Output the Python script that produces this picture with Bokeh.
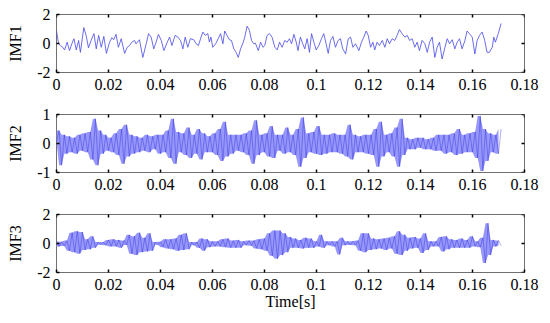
import numpy as np
from bokeh.plotting import figure
from bokeh.layouts import column
from bokeh.models import FixedTicker, Range1d
from bokeh.embed import file_html
from bokeh.resources import INLINE

# ---------------- data ----------------
x_ticks = [0, 0.02, 0.04, 0.06, 0.08, 0.1, 0.12, 0.14, 0.16, 0.18]
x_tick_labels = ["0", "0.02", "0.04", "0.06", "0.08", "0.1", "0.12", "0.14", "0.16", "0.18"]
x_label = "Time[s]"
panel_labels = ["IMF1", "IMF2", "IMF3"]
y_ticks_1 = [-2, 0, 2]
y_ticks_2 = [-1, 0, 1]
y_ticks_3 = [-2, 0, 2]

imf1_t = [0.0, 0.0008, 0.0015, 0.0024, 0.0031, 0.0041, 0.0050, 0.0059, 0.0067, 0.0076,
          0.0085, 0.0092, 0.0105, 0.0114, 0.0123, 0.0133, 0.0144, 0.0153, 0.0162, 0.0172,
          0.0182, 0.0192, 0.0204, 0.0213, 0.0220, 0.0229, 0.0238, 0.0249, 0.0262, 0.0272,
          0.0281, 0.0290, 0.0300, 0.0306, 0.0319, 0.0332, 0.0345, 0.0354, 0.0364, 0.0374,
          0.0383, 0.0392, 0.0403, 0.0413, 0.0426, 0.0435, 0.0444, 0.0456, 0.0467, 0.0477,
          0.0486, 0.0495, 0.0505, 0.0515, 0.0528, 0.0537, 0.0546, 0.0556, 0.0563, 0.0572,
          0.0582, 0.0588, 0.0594, 0.0601, 0.0612, 0.0622, 0.0631, 0.0640, 0.0647, 0.0656,
          0.0665, 0.0673, 0.0682, 0.0691, 0.0699, 0.0708, 0.0717, 0.0724, 0.0733, 0.0742,
          0.0750, 0.0759, 0.0765, 0.0776, 0.0785, 0.0794, 0.0801, 0.0810, 0.0819, 0.0829,
          0.0840, 0.0849, 0.0858, 0.0868, 0.0878, 0.0887, 0.0896, 0.0904, 0.0913, 0.0922,
          0.0929, 0.0938, 0.0947, 0.0955, 0.0964, 0.0973, 0.0981, 0.0990, 0.0999, 0.1009,
          0.1019, 0.1028, 0.1037, 0.1045, 0.1054, 0.1063, 0.1073, 0.1083, 0.1092, 0.1101,
          0.1112, 0.1122, 0.1131, 0.1140, 0.1150, 0.1163, 0.1173, 0.1182, 0.1191, 0.1199,
          0.1208, 0.1217, 0.1224, 0.1233, 0.1242, 0.1253, 0.1263, 0.1272, 0.1281, 0.1291,
          0.1301, 0.1310, 0.1319, 0.1329, 0.1340, 0.1349, 0.1358, 0.1368, 0.1378, 0.1387,
          0.1396, 0.1406, 0.1417, 0.1426, 0.1435, 0.1445, 0.1455, 0.1464, 0.1473, 0.1483,
          0.1494, 0.1503, 0.1512, 0.1522, 0.1532, 0.1541, 0.1550, 0.1560, 0.1571, 0.1579,
          0.1588, 0.1599, 0.1609, 0.1618, 0.1627, 0.1637, 0.1647, 0.1656, 0.1665, 0.1676,
          0.1682, 0.1688, 0.1699, 0.1710]
imf1 = [0.86, -0.02, -0.14, -0.26, -0.44, 0.09, -0.49, -0.02, 0.33, -0.44,
        0.21, -0.61, 1.10, 0.56, -0.30, 0.21, 0.68, -0.37, 0.56, -0.26,
        0.49, -0.68, 0.09, 0.40, 0.26, 0.63, -0.26, 0.33, -0.68, -0.26,
        -0.14, 0.09, 0.21, -0.02, 0.26, -0.96, -0.02, 0.68, 0.44, -0.37,
        0.09, 0.63, 0.21, -0.49, 0.09, 0.44, -0.14, 0.56, 0.44, 0.21,
        -0.37, 0.44, -0.26, 0.33, 0.26, -0.02, -0.14, 0.44, 0.79, 0.56,
        0.68, 0.10, 0.44, -0.26, -0.02, 0.33, 0.68, -0.02, 0.86, 0.56,
        0.26, 0.21, -0.37, -0.61, -0.96, -0.37, 0.02, 0.44, 1.19, 0.91,
        0.21, -0.02, 0.02, -0.49, 0.09, -0.26, -0.14, 0.56, 0.68, 0.44,
        -0.26, -0.44, 0.09, -0.26, 0.21, 0.09, 0.33, -0.02, 0.63, 0.09,
        -0.49, 0.44, -0.02, -0.37, 0.33, -0.61, 0.68, 0.09, -0.44, -0.14,
        0.33, 0.68, -0.02, -0.68, 0.21, 0.49, -0.26, 0.21, 0.33, -0.37,
        -0.72, 0.33, 0.44, -0.26, -0.02, -0.49, 0.09, 0.44, 0.86, 0.56,
        -0.26, 0.09, -0.44, 0.09, -0.14, 0.21, -0.26, 0.33, -0.02, 0.33,
        0.21, 0.56, 0.96, 0.68, 0.44, 0.56, 0.21, 0.33, -0.26, 0.09,
        -0.49, 0.21, -0.02, -0.61, 0.09, 0.44, -0.96, -0.26, 0.09, -1.07,
        -0.26, 0.33, -0.02, 0.26, -0.37, 0.09, 0.33, -0.37, 0.21, 0.86,
        0.68, 0.44, -0.72, 0.21, 0.56, 0.79, 0.21, -0.61, -0.61, -0.26,
        0.44, 0.09, 0.68, 1.38]

sample_interval = 0.001  # s, IMF2 / IMF3 samples

imf2 = [0.05, 0.45, -0.75, 0.3, -0.35, 0.25, -0.3, 0.2, -0.35, 0.3,
        -0.25, 0.35, -0.3, 0.4, -0.55, 0.85, -0.75, 0.45, -0.35, 0.3,
        -0.25, 0.2, -0.3, 0.35, -0.4, 0.5, -0.7, 0.65, -0.45, 0.3,
        -0.35, 0.25, -0.3, 0.2, -0.25, 0.3, -0.3, 0.25, -0.2, 0.3,
        -0.35, 0.3, -0.3, 0.45, -0.5, 0.85, -0.7, 0.4, -0.3, 0.35,
        -0.4, 0.55, -0.5, 0.3, -0.35, 0.5, -0.55, 0.35, -0.3, 0.25,
        -0.3, 0.35, -0.4, 0.5, -0.6, 0.75, -0.45, 0.3, -0.35, 0.3,
        -0.25, 0.3, -0.3, 0.35, -0.4, 0.45, -0.7, 0.8, -0.4, 0.3,
        -0.3, 0.35, -0.45, 0.6, -0.5, 0.3, -0.25, 0.3, -0.35, 0.55,
        -0.3, 0.3, -0.4, 0.5, -0.8, 0.9, -0.5, 0.35, -0.3, 0.4,
        -0.35, 0.6, -0.4, 0.3, -0.35, 0.3, -0.3, 0.35, -0.3, 0.3,
        -0.35, 0.3, -0.45, 0.65, -0.55, 0.3, -0.3, 0.25, -0.3, 0.3,
        -0.35, 0.3, -0.4, 0.5, -0.8, 0.75, -0.45, 0.3, -0.3, 0.35,
        -0.45, 0.55, -0.8, 0.85, -0.4, 0.2, -0.2, 0.15, -0.2, 0.2,
        -0.15, 0.2, -0.2, 0.15, -0.2, 0.2, -0.25, 0.3, -0.25, 0.3,
        -0.35, 0.3, -0.3, 0.35, -0.4, 0.5, -0.35, 0.3, -0.3, 0.35,
        -0.3, 0.4, -0.5, 0.95, -0.95, 0.5, -0.6, 0.35, -0.3, 0.3,
        -0.35, 0.5]

imf3 = [0.15, -0.2, 0.12, -0.18, 0.2,
        -0.5, 0.75, -0.6, 0.85, -0.7, 0.8,
        -0.45, 0.3, -0.4, 0.5, -0.3,
        0.1, -0.08, 0.1, -0.12,
        0.25, -0.2, 0.3, -0.2, 0.25, -0.3, 0.2,
        -0.1,
        0.6, -0.7, 0.5, -0.8, 0.75, -0.6, 0.4, -0.55, 0.7, -0.5,
        0.1, -0.08, 0.12,
        -0.25, 0.3, -0.35, 0.3, -0.4, 0.35,
        -0.5, 0.6, -0.45, 0.7, -0.4,
        0.1, -0.12, 0.1,
        -0.3, 0.35, -0.5, 0.3, -0.25,
        0.15, -0.2, 0.15, -0.2,
        0.3, -0.25, 0.35, -0.3, 0.2, -0.3, 0.25, -0.3,
        0.15, -0.12, 0.2, -0.15, 0.2,
        -0.35, 0.3, -0.4, 0.35, -0.5,
        0.7, -0.85, 0.9, -1.05, 0.9, -0.8, 0.7, -0.6, 0.45,
        -0.3, 0.35, -0.3, 0.25,
        -0.35, 0.4, -0.3, 0.35, -0.3,
        0.15, -0.2, 0.6, -0.3, 0.15,
        -0.12, 0.15, -0.2, 0.15,
        -0.75, 0.4,
        -0.12, 0.15, -0.1, 0.15, -0.12, 0.2,
        -0.5, 0.7, -0.6, 0.7, -0.45,
        0.35, -0.4, 0.3, -0.35,
        0.35, -0.45, 0.4, -0.35, 0.5,
        -0.7, 0.85, -0.8, 0.6, -0.5,
        0.4, -0.35, 0.45, -0.3, 0.35,
        -0.65, 0.7, -0.45,
        0.15, -0.2, 0.15, -0.2,
        0.45, -0.55, 0.5, -0.4, 0.3,
        -0.3, 0.25, -0.3, 0.35, -0.3, 0.25, -0.3,
        0.5,
        -0.2, 0.15, -0.25, 0.4,
        -1.35, 1.4, -0.8,
        0.25, -0.2, 0.2, -0.15]

# ---------------- style ----------------
FONT = "Liberation Serif"
TICK_FS = "16px"
LABEL_FS = "16px"
FRAME_W = 468
FRAME_H = 58
LEFT = 56
RIGHT = 24
TOP = 14
X_MIN, X_MAX = 0, 0.18


def make_panel(label, y_ticks, bottom, with_xlabel=False):
    ymin, ymax = y_ticks[0], y_ticks[-1]
    p = figure(width=LEFT + FRAME_W + RIGHT, height=TOP + FRAME_H + bottom,
               x_range=Range1d(X_MIN, X_MAX), y_range=Range1d(ymin, ymax),
               output_backend="svg", toolbar_location=None,
               min_border_left=LEFT, min_border_right=RIGHT,
               min_border_top=TOP, min_border_bottom=bottom)
    p.grid.visible = False
    p.outline_line_color = "#707070"
    p.outline_line_width = 1
    p.background_fill_color = "white"
    p.border_fill_color = "white"

    xa = p.xaxis[0]
    xa.ticker = FixedTicker(ticks=x_ticks)
    xa.major_label_overrides = {t: s for t, s in zip(x_ticks, x_tick_labels)}
    ya = p.yaxis[0]
    ya.ticker = FixedTicker(ticks=y_ticks)
    ya.major_label_overrides = {t: str(t) for t in y_ticks}
    ya.axis_label = label
    ya.axis_label_standoff = 10
    ya.major_label_standoff = 6
    xa.major_label_standoff = 6
    if with_xlabel:
        xa.axis_label = x_label
        xa.axis_label_standoff = 0
    for ax in (xa, ya):
        ax.axis_line_color = None
        ax.major_tick_in = 3
        ax.major_tick_out = 0
        ax.major_tick_line_color = "black"
        ax.major_tick_line_width = 1.5
        ax.minor_tick_line_color = None
        ax.major_label_text_font = FONT
        ax.major_label_text_font_size = TICK_FS
        ax.major_label_text_color = "black"
        ax.axis_label_text_font = FONT
        ax.axis_label_text_font_size = LABEL_FS
        ax.axis_label_text_font_style = "normal"
        ax.axis_label_text_color = "black"

    # mirrored inner ticks on top and right edges (half of each dash is clipped by the frame)
    p.scatter(x=x_ticks, y=[ymax] * len(x_ticks), marker="dash", size=6, angle=np.pi / 2,
              line_color="black", line_width=1.5)
    p.scatter(x=[X_MAX] * len(y_ticks), y=y_ticks, marker="dash", size=6,
              line_color="black", line_width=1.5)
    return p


p1 = make_panel(panel_labels[0], y_ticks_1, 28)
p1.line(imf1_t, imf1, line_color="#4a4ae8", line_width=0.9, line_alpha=0.9)


def dense_trace(p, values):
    t = np.arange(len(values)) * sample_interval
    a = np.array(values)
    upper = np.maximum(a[:-1], a[1:])
    lower = np.minimum(a[:-1], a[1:])
    p.varea(x=t[:-1], y1=lower, y2=upper, fill_color="#9898fb", fill_alpha=1.0)
    p.line(t, a, line_color="#1c1cd8", line_width=0.6, line_alpha=0.6)


p2 = make_panel(panel_labels[1], y_ticks_2, 28)
dense_trace(p2, imf2)

p3 = make_panel(panel_labels[2], y_ticks_3, 45, with_xlabel=True)
dense_trace(p3, imf3)

layout = column(p1, p2, p3, spacing=0)
open("out.html", "w").write(file_html(layout, INLINE))
